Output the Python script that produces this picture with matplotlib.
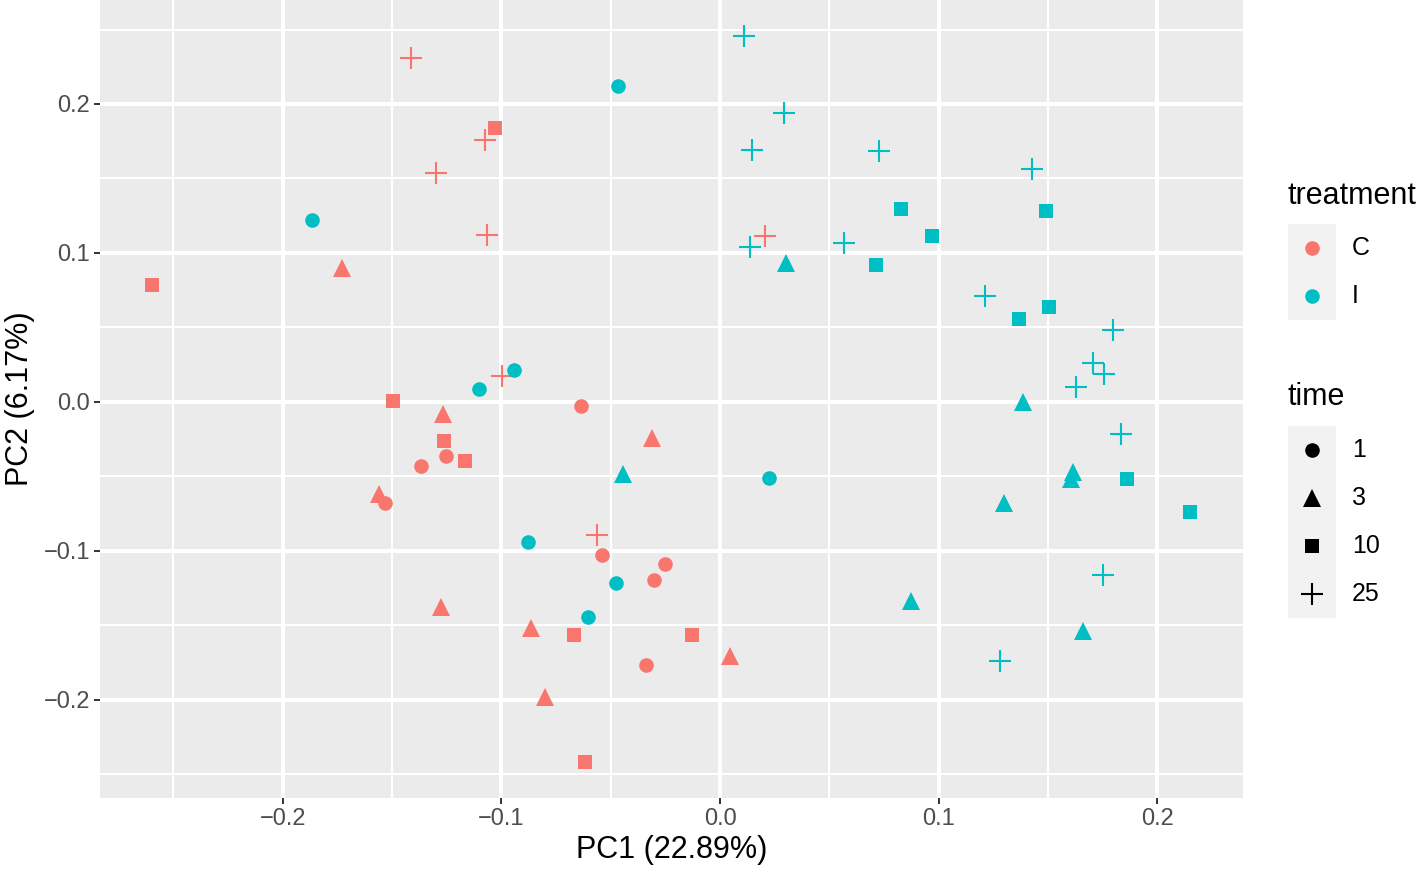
import matplotlib
matplotlib.use('Agg')
import matplotlib.pyplot as plt
from matplotlib.patches import Rectangle

plt.rcParams['font.family'] = ['Liberation Sans', 'DejaVu Sans']

# PCA scores, grouped by treatment and time
c_t1_x = [-0.0636, -0.1367, -0.1253, -0.1532, -0.0540, -0.0251, -0.0302, -0.0338]
c_t1_y = [-0.0027, -0.0430, -0.0362, -0.0678, -0.1027, -0.1087, -0.1195, -0.1765]
c_t3_x = [-0.1728, -0.1267, -0.0311, -0.1559, -0.1276, -0.0864, -0.0800, 0.0046]
c_t3_y = [0.0899, -0.0081, -0.0242, -0.0617, -0.1376, -0.1517, -0.1980, -0.1705]
c_t10_x = [-0.2597, -0.1029, -0.1495, -0.1262, -0.1166, -0.0668, -0.0128, -0.0617]
c_t10_y = [0.0785, 0.1839, 0.0007, -0.0262, -0.0396, -0.1564, -0.1564, -0.2416]
c_t25_x = [-0.1413, -0.1075, -0.1299, -0.1065, 0.0206, -0.0997, -0.0562]
c_t25_y = [0.2309, 0.1758, 0.1537, 0.1121, 0.1114, 0.0174, -0.0893]

i_t1_x = [-0.0466, -0.1866, -0.0942, -0.1102, -0.0878, 0.0224, -0.0476, -0.0604]
i_t1_y = [0.2121, 0.1221, 0.0215, 0.0087, -0.0940, -0.0510, -0.1215, -0.1443]
i_t3_x = [0.0302, 0.1385, -0.0444, 0.1614, 0.1605, 0.1299, 0.0873, 0.1660]
i_t3_y = [0.0933, 0.0000, -0.0483, -0.0470, -0.0517, -0.0678, -0.1336, -0.1537]
i_t10_x = [0.0828, 0.1491, 0.0969, 0.0713, 0.1504, 0.1367, 0.1861, 0.2149]
i_t10_y = [0.1295, 0.1282, 0.1114, 0.0919, 0.0638, 0.0557, -0.0517, -0.0738]
i_t25_x = [0.0110, 0.0293, 0.0146, 0.0727, 0.1427, 0.0137, 0.0567, 0.1212,
           0.1797, 0.1706, 0.1756, 0.1628, 0.1834, 0.1751, 0.1280]
i_t25_y = [0.2456, 0.1940, 0.1691, 0.1685, 0.1564, 0.1040, 0.1067, 0.0711,
           0.0483, 0.0262, 0.0188, 0.0101, -0.0215, -0.1161, -0.1738]

treatments = ['C', 'I']
times = ['1', '3', '10', '25']
colors = {'C': '#F8766D', 'I': '#00BFC4'}
shapes = {'1': ('o', 10.5, 0), '3': ('^', 13.5, 0), '10': ('s', 9.8, 0), '25': ('+', 16, 1.5)}

groups = [
    ('C', '1', c_t1_x, c_t1_y), ('C', '3', c_t3_x, c_t3_y),
    ('C', '10', c_t10_x, c_t10_y), ('C', '25', c_t25_x, c_t25_y),
    ('I', '1', i_t1_x, i_t1_y), ('I', '3', i_t3_x, i_t3_y),
    ('I', '10', i_t10_x, i_t10_y), ('I', '25', i_t25_x, i_t25_y),
]

W, H = 1417, 872
fig = plt.figure(figsize=(W/100, H/100), dpi=100)
ax = fig.add_axes([100/W, 1-798/H, (1243-100)/W, 798/H])
ax.set_facecolor('#EBEBEB')
for s in ax.spines.values():
    s.set_visible(False)

for tr, tm, xs, ys in groups:
    m, ms, mew = shapes[tm]
    ax.plot(xs, ys, linestyle='none', marker=m, markersize=ms, color=colors[tr],
            markeredgewidth=mew if mew else 0, zorder=3)

ax.set_xlim(-0.2835, 0.2391)
ax.set_ylim(-0.2658, 0.2698)
ax.set_xticks([-0.2, -0.1, 0.0, 0.1, 0.2])
ax.set_yticks([-0.2, -0.1, 0.0, 0.1, 0.2])
ax.set_xticks([-0.25, -0.15, -0.05, 0.05, 0.15], minor=True)
ax.set_yticks([-0.25, -0.15, -0.05, 0.05, 0.15, 0.25], minor=True)
ax.set_xticklabels(['\u22120.2', '\u22120.1', '0.0', '0.1', '0.2'])
ax.set_yticklabels(['\u22120.2', '\u22120.1', '0.0', '0.1', '0.2'])
ax.grid(which='major', color='white', linewidth=2.9, zorder=0)
ax.grid(which='minor', color='white', linewidth=1.45, zorder=0)
ax.set_axisbelow(True)
ax.tick_params(which='major', length=4, width=1.4, color='#333333',
               labelsize=17, labelcolor='#4D4D4D', pad=3)
ax.tick_params(which='minor', length=0)
ax.set_xlabel('PC1 (22.89%)', fontsize=22, labelpad=4)
ax.set_ylabel('PC2 (6.17%)', fontsize=22, labelpad=6)

# legends, drawn in pixel space on an overlay
lg = fig.add_axes([0, 0, 1, 1])
lg.set_xlim(0, W)
lg.set_ylim(H, 0)
lg.axis('off')

lg.text(1288, 196, 'treatment', fontsize=22, va='center', ha='left')
lg.add_patch(Rectangle((1288, 224), 48, 96, facecolor='#F2F2F2', edgecolor='none'))
for k, tr in enumerate(treatments):
    yc = 248 + 48*k
    lg.plot([1312], [yc], marker='o', markersize=10.5, color=colors[tr], markeredgewidth=0)
    lg.text(1352, yc, tr, fontsize=18, va='center', ha='left')

lg.text(1288, 397, 'time', fontsize=22, va='center', ha='left')
lg.add_patch(Rectangle((1288, 426), 48, 192, facecolor='#F2F2F2', edgecolor='none'))
for k, tm in enumerate(times):
    yc = 450 + 48*k
    m, ms, mew = shapes[tm]
    lg.plot([1312], [yc], marker=m, markersize=ms, color='black',
            markeredgewidth=mew if mew else 0)
    lg.text(1352, yc, tm, fontsize=18, va='center', ha='left')

fig.savefig('out.png', dpi=100)
